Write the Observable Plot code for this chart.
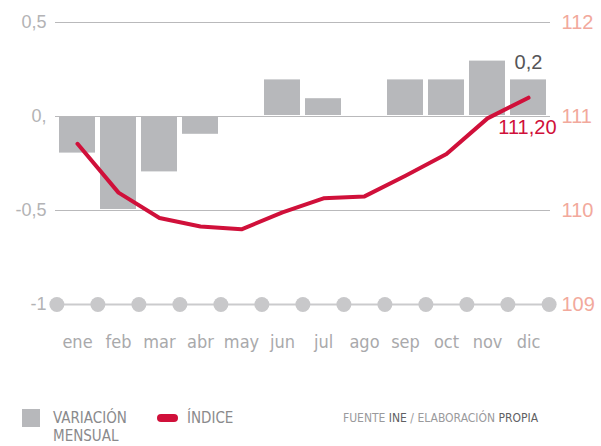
<!DOCTYPE html>
<html>
<head>
<meta charset="utf-8">
<script src="https://cdn.jsdelivr.net/npm/d3@7"></script>
<script src="https://cdn.jsdelivr.net/npm/@observablehq/plot@0.6"></script>
<style>
  html, body { margin: 0; padding: 0; background: #fff; }
  #wrap { position: relative; width: 601px; height: 446px; overflow: hidden; }
  .cond { font-family: "DejaVu Sans Condensed", "DejaVu Sans", sans-serif; font-stretch: condensed; }
  #legend { position: absolute; left: 0; top: 0; width: 601px; height: 446px; pointer-events: none; }
  .sq { position: absolute; left: 22px; top: 409px; width: 18px; height: 18px; background: #b7b8bb; }
  .pill { position: absolute; left: 157px; top: 414px; width: 21px; height: 8px; border-radius: 4px; background: #d0103a; }
  .lt { position: absolute; color: #8a8a8c; font-size: 15px; line-height: 18px; }
  .src { position: absolute; left: 343px; top: 411px; color: #9a9a9c; font-size: 12px; line-height: 14px; }
  .src b { font-weight: normal; color: #606062; }
</style>
</head>
<body>
<div id="wrap">
  <div id="chart"></div>
  <div id="legend" class="cond">
    <div class="sq"></div>
    <div class="lt" style="left:53px; top:409px;">VARIACIÓN<br>MENSUAL</div>
    <div class="pill"></div>
    <div class="lt" style="left:187px; top:409px;">ÍNDICE</div>
    <div class="src">FUENTE <b>INE</b> / ELABORACIÓN <b>PROPIA</b></div>
  </div>
</div>
<script>
const months = ["ene","feb","mar","abr","may","jun","jul","ago","sep","oct","nov","dic"];
const variacion = [-0.2, -0.5, -0.3, -0.1, 0, 0.2, 0.1, 0, 0.2, 0.2, 0.3, 0.2];
const indice = [110.71, 110.19, 109.92, 109.83, 109.80, 109.98, 110.13, 110.15, 110.37, 110.60, 110.98, 111.20];
const leftTicks = [0.5, 0, -0.5, -1];
const leftTickLabels = ["0,5", "0,", "-0,5", "-1"];
const rightTicks = [112, 111, 110, 109];
const lastBarLabel = "0,2";
const lastIndexLabel = "111,20";

// right axis (índice) mapped onto the left scale: 111 -> 0, 1 unit -> 0.5
const idxToY = v => (v - 111) / 2;

const bars = months.map((m, i) => ({month: m, v: variacion[i]}));
const line = months.map((m, i) => ({month: m, idx: indice[i]}));
const gridData = leftTicks.map((t, i) => ({t, label: leftTickLabels[i]}));

const width = 601, height = 400;
const marginLeft = 55, marginRight = 51;
const step = (width - marginLeft - marginRight) / 12;

const tickFont = "Liberation Sans, Arial, sans-serif";
const condFont = "DejaVu Sans Condensed, DejaVu Sans, sans-serif";

const chart = Plot.plot({
  width, height,
  marginTop: 22, marginBottom: 96, marginLeft, marginRight,
  style: {background: "#fff", overflow: "visible"},
  x: {type: "band", domain: months, paddingInner: 0.12, paddingOuter: 0.06, axis: null},
  y: {domain: [-1, 0.5], axis: null},
  marks: [
    Plot.ruleY(gridData.filter(d => d.t > -1), {y: "t", stroke: "#b9b9bb", strokeWidth: 1.2}),
    Plot.ruleY([-1], {stroke: "#cbcbcd", strokeWidth: 2}),
    Plot.barY(bars, {x: "month", y1: 0, y2: "v", fill: "#b7b8bb", insetTop: 1, insetBottom: 1}),
    Plot.dot(months, {x: d => d, y: -1, dx: -step / 2, r: 7.5, fill: "#c8c8ca"}),
    Plot.dot(months.slice(-1), {x: d => d, y: -1, dx: step / 2, r: 7.5, fill: "#c8c8ca"}),
    Plot.line(line, {x: "month", y: d => idxToY(d.idx), stroke: "#d0103a", strokeWidth: 4, strokeLinecap: "round", strokeLinejoin: "round"}),
    Plot.text(gridData, {y: "t", text: "label", frameAnchor: "left", dx: -9, textAnchor: "end",
      fill: "#b3b3b5", fontSize: 18, fontFamily: tickFont}),
    Plot.text(rightTicks, {y: d => idxToY(d), text: d => String(d), frameAnchor: "right", dx: 11, textAnchor: "start",
      fill: "#f2a99c", fontSize: 20, fontFamily: tickFont}),
    Plot.text(months, {x: d => d, y: -1, dy: 38, text: d => d, fill: "#a9a9ab", fontSize: 18, fontFamily: condFont}),
    Plot.text(bars.slice(-1), {x: "month", y: "v", dy: -16, text: () => lastBarLabel, fill: "#555557", fontSize: 20, fontFamily: tickFont}),
    Plot.text(line.slice(-1), {x: "month", y: d => idxToY(d.idx), dy: 30, dx: 28, textAnchor: "end", text: () => lastIndexLabel,
      fill: "#d0103a", fontSize: 20, fontFamily: tickFont})
  ]
});
document.getElementById("chart").appendChild(chart);
</script>
</body>
</html>
